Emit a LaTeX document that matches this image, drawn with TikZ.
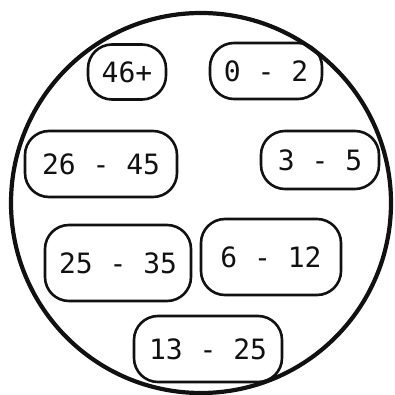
\documentclass[tikz,border=0pt]{standalone}
\usepackage{fontspec}
\setmonofont{DejaVu Sans Mono}
\usepackage{tikz}
\definecolor{InkLine}{HTML}{111111}

\begin{document}
\begin{tikzpicture}[x=1pt,y=-1pt,
    agebox/.style={draw=InkLine,line width=2.6pt,rounded corners=24pt,
      inner sep=0pt,font=\ttfamily\fontsize{28}{28}\selectfont,text=InkLine}]
    \useasboundingbox (0,0) rectangle (394,395);
    \draw[InkLine,line width=4.2pt] (201,203) circle (190);
    \node[agebox,minimum width=78,minimum height=55] (n46) at (127,72) {46+};
    \node[agebox,minimum width=112,minimum height=56] (n0) at (266,71) {0 - 2};
    \node[agebox,minimum width=152,minimum height=66] (n26) at (101,164) {26 - 45};
    \node[agebox,minimum width=118,minimum height=58] (n3) at (320,160) {3 - 5};
    \node[agebox,minimum width=146,minimum height=76] (n25) at (118,263) {25 - 35};
    \node[agebox,minimum width=140,minimum height=76] (n6) at (271,257) {6 - 12};
    \node[agebox,minimum width=148,minimum height=66] (n13) at (208,349) {13 - 25};
  \end{tikzpicture}
\end{document}
